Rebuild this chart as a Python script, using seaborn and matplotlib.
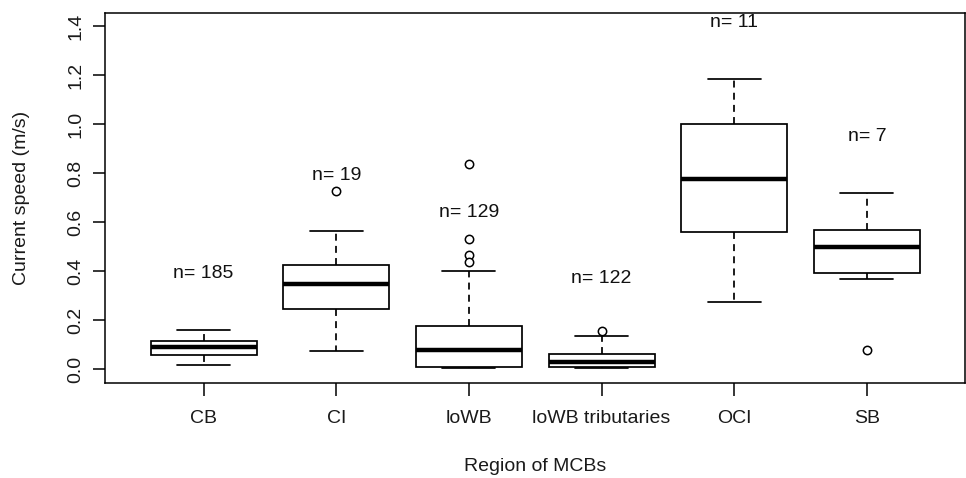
import numpy as np
import pandas as pd
import matplotlib
matplotlib.use("Agg")
import matplotlib.pyplot as plt
import seaborn as sns

# ---- data ----
regions = ["CB", "CI", "loWB", "loWB tributaries", "OCI", "SB"]
whisker_low = [0.016, 0.072, 0.003, 0.005, 0.273, 0.366]
q1 = [0.056, 0.247, 0.009, 0.010, 0.559, 0.392]
median = [0.088, 0.347, 0.077, 0.027, 0.776, 0.497]
q3 = [0.114, 0.424, 0.175, 0.062, 1.002, 0.570]
whisker_high = [0.161, 0.562, 0.401, 0.134, 1.184, 0.720]
outlier_region = ["CI", "loWB", "loWB", "loWB", "loWB", "loWB tributaries", "SB"]
outlier_value = [0.729, 0.836, 0.533, 0.465, 0.438, 0.155, 0.077]
n_counts = [185, 19, 129, 122, 11, 7]
n_label_y = [0.40, 0.80, 0.648, 0.38, 1.425, 0.96]
y_ticks = [0.0, 0.2, 0.4, 0.6, 0.8, 1.0, 1.2, 1.4]

sns.set_theme(style="white")
plt.rcParams["font.family"] = ["Liberation Sans", "DejaVu Sans"]

rows = []
for i, r in enumerate(regions):
    for v in (whisker_low[i], q1[i], median[i], q3[i], whisker_high[i]):
        rows.append({"region": r, "speed": v})
df = pd.DataFrame(rows)

fig = plt.figure(figsize=(9.66, 4.78), dpi=100)
ax = fig.add_axes([0.1092, 0.1994, 0.8898, 0.774])

lw = 1.25
sns.boxplot(data=df, x="region", y="speed", order=regions, whis=np.inf,
            width=0.8, color="white", linecolor="black", linewidth=lw,
            showfliers=False, ax=ax,
            medianprops=dict(linewidth=3.2, color="black"),
            whiskerprops=dict(linestyle=(0, (4, 3)), linewidth=lw, color="black"),
            capprops=dict(linewidth=lw, color="black"),
            boxprops=dict(linewidth=lw, edgecolor="black", facecolor="white"))

sns.stripplot(x=outlier_region, y=outlier_value, order=regions, jitter=False,
              size=6, color="white", edgecolor="black", linewidth=1.1, ax=ax,
              zorder=5)

fs = 14
for i, (n, yv) in enumerate(zip(n_counts, n_label_y)):
    ax.text(i, yv, f"n= {n}", ha="center", va="center_baseline", fontsize=fs,
            color="#111111")

ax.set_xlim(-0.74, 5.74)
ax.set_ylim(-0.056, 1.456)
ax.set_yticks(y_ticks)
ax.set_yticklabels([f"{t:.1f}" for t in y_ticks], rotation=90, va="center")
ax.set_xticks(range(len(regions)))
ax.set_xticklabels(regions)
ax.tick_params(axis="both", which="both", direction="out", length=9, width=1.1,
               color="black", labelsize=fs, labelcolor="#1a1a1a")
ax.tick_params(axis="x", pad=11, bottom=True)
ax.tick_params(axis="y", pad=6, left=True)
for s in ax.spines.values():
    s.set_visible(True)
    s.set_color("black")
    s.set_linewidth(1.1)

ax.set_xlabel("Region of MCBs", fontsize=fs, color="#1a1a1a", labelpad=22)
ax.set_ylabel("Current speed (m/s)", fontsize=fs, color="#1a1a1a", labelpad=27)
ax.grid(False)

fig.savefig("out.png", dpi=100, facecolor="white")
